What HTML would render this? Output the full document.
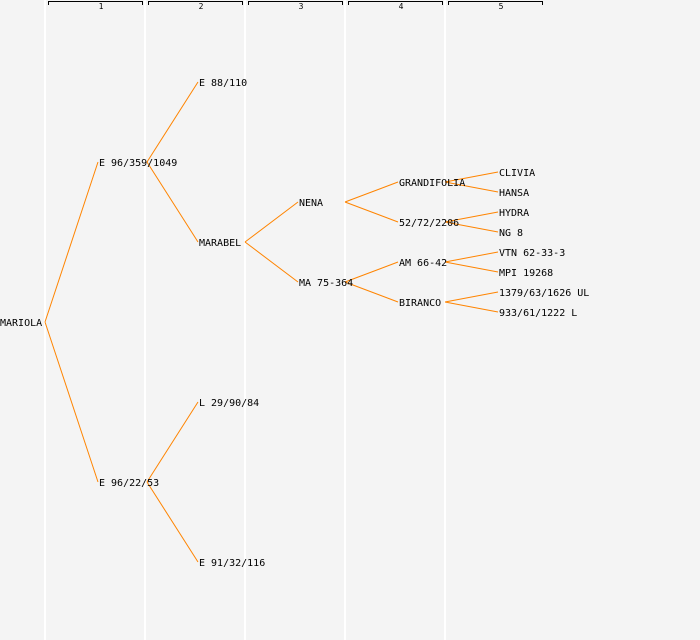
<!DOCTYPE html><html><head><style>body{margin:0;background:#f4f4f4}svg{display:block}text{font-family:"DejaVu Sans Mono","Liberation Mono",monospace;font-size:10px;fill:#000}</style></head><body>
<svg width="700" height="640" xmlns="http://www.w3.org/2000/svg">
<rect width="700" height="640" fill="#f4f4f4"/>
<g stroke="#fff" stroke-width="2"><line x1="45" y1="0" x2="45" y2="640"/><line x1="145" y1="0" x2="145" y2="640"/><line x1="245" y1="0" x2="245" y2="640"/><line x1="345" y1="0" x2="345" y2="640"/><line x1="445" y1="0" x2="445" y2="640"/></g>
<g stroke="#000" fill="none" stroke-width="1">
<path d="M48.5 5V1.5H142.5V5"/><path d="M148.5 5V1.5H242.5V5"/><path d="M248.5 5V1.5H342.5V5"/><path d="M348.5 5V1.5H442.5V5"/><path d="M448.5 5V1.5H542.5V5"/></g>
<g text-anchor="middle"><text x="101" y="9" style="font-size:8px">1</text><text x="201" y="9" style="font-size:8px">2</text><text x="301" y="9" style="font-size:8px">3</text><text x="401" y="9" style="font-size:8px">4</text><text x="501" y="9" style="font-size:8px">5</text></g>
<g stroke="#ff8400" stroke-width="1" fill="none">
<path d="M45 322L98 162M45 322L98 482"/>
<path d="M147 162L198 82M147 162L198 242M147 482L198 402M147 482L198 562"/>
<path d="M245 242L298 202M245 242L298 282"/>
<path d="M345 202L398 182M345 202L398 222M345 282L398 262M345 282L398 302"/>
<path d="M445 182L498 172M445 182L498 192M445 222L498 212M445 222L498 232M445 262L498 252M445 262L498 272M445 302L498 292M445 302L498 312"/>
</g>
<g>
<text x="0" y="326">MARIOLA</text>
<text x="99" y="166">E 96/359/1049</text><text x="99" y="486">E 96/22/53</text>
<text x="199" y="86">E 88/110</text><text x="199" y="246">MARABEL</text><text x="199" y="406">L 29/90/84</text><text x="199" y="566">E 91/32/116</text>
<text x="299" y="206">NENA</text><text x="299" y="286">MA 75-364</text>
<text x="399" y="186">GRANDIFOLIA</text><text x="399" y="226">52/72/2206</text><text x="399" y="266">AM 66-42</text><text x="399" y="306">BIRANCO</text>
<text x="499" y="176">CLIVIA</text><text x="499" y="196">HANSA</text><text x="499" y="216">HYDRA</text><text x="499" y="236">NG 8</text><text x="499" y="256">VTN 62-33-3</text><text x="499" y="276">MPI 19268</text><text x="499" y="296">1379/63/1626 UL</text><text x="499" y="316">933/61/1222 L</text>
</g>
</svg></body></html>
